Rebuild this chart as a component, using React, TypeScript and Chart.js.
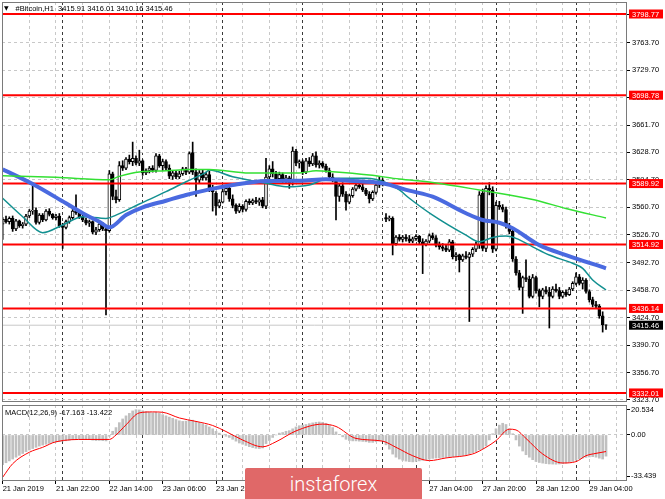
import React, { useEffect, useRef } from "react";
import { Chart, registerables } from "chart.js";

Chart.register(...registerables);

const FONT = "'Liberation Sans', Arial, sans-serif";

// ---- Candles (H1, bar index 0 = 21 Jan 06:00) ----
const opens = [
  3540,3546,3543,3547,3534,3544,3538,3540,3550,3556,
  3557,3542,3551,3545,3556,3552,3548,3550,3538,3536,
  3543,3548,3556,3554,3549,3545,3541,3543,3530,3533,
  3540,3534,3532,3602,3574,3570,3612,3609,3620,3617,
  3621,3615,3618,3603,3606,3609,3606,3624,3612,3617,
  3609,3599,3603,3598,3602,3608,3604,3628,3604,3594,
  3603,3597,3601,3583,3578,3562,3567,3580,3584,3571,
  3563,3556,3562,3558,3568,3566,3569,3567,3570,3562,
  3598,3608,3602,3596,3601,3593,3597,3592,3630,3615,
  3617,3604,3618,3614,3624,3613,3615,3611,3606,3598,
  3594,3574,3587,3577,3567,3575,3583,3588,3586,3582,
  3577,3571,3579,3588,3594,3548,3546,3547,3516,3524,
  3521,3524,3522,3519,3522,3525,3518,3515,3519,3526,
  3523,3514,3512,3510,3508,3518,3500,3502,3496,3501,
  3499,3503,3509,3514,3578,3510,3584,3582,3509,3563,
  3561,3558,3538,3531,3497,3480,3462,3474,3472,3451,
  3474,3458,3451,3459,3456,3451,3460,3458,3451,3456,
  3453,3460,3467,3475,3467,3471,3457,3447,3441,3439,
  3427,3415.91
];
const highs = [
  3548,3550,3549,3550,3546,3545,3542,3552,3558,3588,
  3560,3553,3553,3558,3559,3553,3552,3553,3541,3545,
  3550,3558,3576,3557,3552,3547,3545,3544,3536,3542,
  3542,3538,3606,3604,3582,3617,3618,3622,3625,3641,
  3624,3631,3619,3608,3611,3612,3627,3626,3620,3619,
  3613,3606,3606,3605,3610,3610,3629,3641,3608,3606,
  3607,3604,3605,3588,3580,3570,3583,3587,3586,3576,
  3565,3565,3564,3570,3571,3571,3573,3572,3573,3621,
  3612,3617,3605,3604,3603,3600,3599,3635,3632,3619,
  3619,3621,3622,3627,3629,3618,3617,3614,3609,3602,
  3596,3590,3591,3580,3577,3585,3590,3592,3589,3584,
  3580,3581,3590,3598,3596,3553,3550,3549,3526,3527,
  3526,3527,3526,3524,3527,3526,3522,3521,3528,3529,
  3526,3518,3516,3514,3521,3520,3505,3503,3503,3506,
  3505,3511,3518,3580,3583,3587,3591,3586,3567,3568,
  3564,3561,3541,3533,3500,3483,3476,3496,3476,3478,
  3476,3460,3461,3463,3462,3463,3466,3462,3458,3459,
  3462,3469,3480,3478,3474,3473,3459,3450,3445,3441,
  3432,3416.01
];
const lows = [
  3521,3541,3540,3531,3532,3536,3535,3538,3548,3552,
  3540,3540,3543,3544,3550,3546,3545,3536,3510,3534,
  3541,3546,3552,3547,3543,3539,3537,3528,3527,3531,
  3532,3428,3530,3570,3566,3568,3606,3607,3614,3612,
  3613,3612,3600,3601,3603,3604,3604,3610,3606,3607,
  3596,3595,3596,3596,3600,3601,3602,3601,3574,3590,
  3594,3594,3580,3556,3551,3560,3566,3576,3568,3560,
  3553,3554,3555,3556,3564,3564,3565,3563,3560,3559,
  3594,3598,3593,3594,3590,3591,3584,3588,3612,3609,
  3601,3602,3611,3612,3610,3609,3609,3604,3596,3592,
  3545,3568,3574,3557,3565,3573,3581,3584,3580,3575,
  3566,3569,3577,3585,3587,3543,3544,3502,3514,3519,
  3518,3519,3517,3517,3520,3516,3479,3513,3517,3521,
  3512,3509,3507,3506,3506,3497,3495,3481,3494,3497,
  3420,3500,3506,3510,3507,3506,3576,3505,3507,3558,
  3555,3535,3528,3494,3477,3459,3430,3469,3449,3449,
  3455,3438,3448,3454,3412,3449,3456,3448,3449,3451,
  3452,3458,3465,3465,3460,3455,3444,3438,3436,3424,
  3407,3410.16
];
const closes = [
  3546,3543,3547,3534,3544,3538,3540,3550,3556,3557,
  3542,3551,3545,3556,3552,3548,3550,3538,3536,3543,
  3548,3556,3554,3549,3545,3541,3543,3530,3533,3540,
  3534,3532,3602,3574,3570,3612,3609,3620,3617,3621,
  3615,3618,3603,3606,3609,3606,3624,3612,3617,3609,
  3599,3603,3598,3602,3608,3604,3627,3604,3594,3603,
  3597,3601,3583,3580,3562,3567,3580,3584,3571,3563,
  3556,3562,3558,3568,3566,3569,3567,3570,3562,3598,
  3608,3602,3596,3601,3593,3597,3590,3630,3615,3617,
  3604,3618,3614,3624,3613,3615,3611,3606,3598,3594,
  3574,3587,3577,3567,3575,3583,3588,3586,3582,3577,
  3571,3579,3588,3594,3590,3546,3547,3516,3524,3521,
  3524,3522,3519,3522,3525,3518,3515,3519,3526,3523,
  3514,3512,3510,3508,3518,3500,3502,3496,3501,3499,
  3503,3509,3515,3576,3510,3584,3582,3509,3563,3561,
  3558,3538,3531,3497,3480,3462,3474,3472,3451,3474,
  3458,3451,3459,3456,3451,3460,3458,3451,3456,3453,
  3460,3467,3475,3467,3471,3457,3447,3441,3439,3427,
  3416,3415.46
];

// ---- Moving averages (read at bar indices) ----
const greenBars = [0,16,32,35,41,49,56,62,74,89,94,99,110,119,129,143,159,169,181];
const greenVals = [3599.5,3597.6,3594.5,3598.8,3604.3,3605.7,3607.3,3607.3,3603,3603,3605.6,3604.5,3600.5,3595.5,3591.2,3582,3570.3,3559.2,3547.5];
const blueBars = [0,9,19,25,29,32,37,42,49,55,62,69,79,89,97,104,114,122,129,139,144,149,153,161,169,181];
const blueVals = [3607.5,3589.4,3565.6,3551.2,3543,3536,3551.2,3560.7,3568.8,3575.8,3582.8,3588.2,3593.1,3593.5,3595.2,3593.5,3590.3,3581.2,3573.7,3553.3,3545,3541.7,3534.8,3514.1,3501.9,3485.5];
const tealBars = [0,6,12,18,24,31,34,41,49,55,61,62,69,79,85,92,96,101,109,115,119,122,129,139,143,147,151,154,159,164,171,174,177,181];
const tealVals = [3571.8,3549.1,3529.4,3538.9,3549.1,3547,3551,3564.7,3579.9,3592.2,3603.8,3606.6,3598.4,3590.3,3586,3588.2,3594.3,3596.4,3596.4,3591,3582,3571.8,3551,3526.4,3518.2,3523.6,3525.3,3522.4,3512,3501.9,3491.7,3485.5,3471.1,3458.8];

// ---- Levels ----
const levels = [3798.77, 3698.78, 3589.92, 3514.92, 3436.14, 3332.01];
const lastPrice = 3415.46;
const priceTicks = [3797.7,3763.7,3729.7,3695.7,3661.7,3628.7,3594.7,3560.7,3526.7,3492.7,3458.7,3424.7,3390.7,3356.7,3323.7];

// ---- MACD ----
const macdHist = [
  -24,-22.5,-21,-19.5,-18,-16.5,-15,-13.5,-12.2,-11,
  -10,-9,-8.2,-7.5,-6.8,-6.2,-5.7,-5.2,-5,-4.7,
  -4.3,-3.8,-3.5,-3.4,-3.5,-3.7,-3.8,-4.2,-4.5,-4.4,
  -4.6,-4.8,-1,3,6,10,13,15.5,17.5,19.5,
  20.5,20.3,19.6,19,18.5,18,18.3,17.5,16.5,15.5,
  14.5,13.5,12.5,11.5,11,11.2,11.8,12,11,10,
  9,8,6.5,5,3,1.5,0,-1,-2,-3.5,
  -5,-6.5,-7.5,-8.5,-9.5,-10.2,-10.8,-11,-10.5,-7,
  -4.5,-2,0,1.5,2,3,3.5,5,6.5,7.5,
  8,8.5,9.2,9.8,10.3,10.5,10.3,9.5,8,6,
  2.5,0.5,-1.5,-3.5,-4.5,-4.8,-4.8,-5,-5.2,-5.5,
  -6,-6,-5.5,-4.8,-4.5,-8,-11.5,-15.5,-18,-19.5,
  -20.5,-21.2,-21.6,-21.8,-21.5,-21,-20.5,-20,-19.5,-19,
  -18.7,-18.5,-18.2,-18,-17.5,-17.5,-17.3,-17,-16.5,-16,
  -15.5,-14.5,-13.5,-12,-11,-9,-4,1,5,8,
  9.5,8.5,5,1,-4,-9,-13,-16,-18,-20,
  -21.5,-22.3,-22.8,-23.2,-23.5,-23.6,-23.7,-23.5,-23.2,-22.8,
  -22.2,-21.5,-20.5,-19.5,-18.7,-18.2,-17.8,-17.6,-18,-18.8,
  -19.5,-17.163
];
const sigBars = [0,3,8,12,16,25,32,34,37,41,45,48,53,58,63,67,72,78,82,88,96,100,106,114,118,123,128,133,141,145,148,152,154,157,162,168,172,175,178,181];
const sigVals = [-34.3,-23.3,-14,-10,-5.5,-3.6,-3.6,0,8.2,17.9,18.7,18.4,13.8,11,7.7,2.8,-4.1,-9.6,-5.5,3.3,8.8,6.9,-2.8,-5,-10,-16.8,-20.8,-18.6,-15.4,-10,-4.6,4.7,4.1,-2.8,-15.4,-22.7,-21.6,-16.8,-14.9,-13.422];
const macdTicks = [20.534, 0, -33.439];
const macdTickLabels = ["20.534", "0.00", "-33.439"];

// ---- Time axis ----
const gridBars = [0,8,16,24,32,40,48,56,64,72,80,88,96,104,112,120,128,136,144,152,160,168,176,184];
const dayBars = [18,42,66,90,114,124,148,172];
const labelBars = [0,16,32,48,64,80,96,112,128,144,160,176];
const labelTexts = ["21 Jan 2019","21 Jan 22:00","22 Jan 14:00","23 Jan 06:00","23 Jan 22:00","24 Jan 14:00","25 Jan 06:00","25 Jan 22:00","27 Jan 04:00","27 Jan 20:00","28 Jan 12:00","29 Jan 04:00"];

const X_MIN = -0.2;
const X_MAX = 187.3;
const PRICE_MIN = 3320.87;
const PRICE_MAX = 3813.55;
const MACD_MIN = -37.3;
const MACD_MAX = 24.3;

const allGrid = Array.from(new Set([...gridBars, ...dayBars])).sort((a, b) => a - b);

function xScale(showLabels: boolean, height: number): any {
  return {
    type: "linear",
    min: X_MIN,
    max: X_MAX,
    offset: false,
    afterBuildTicks: (s: any) => { s.ticks = allGrid.map((v) => ({ value: v })); },
    afterFit: (s: any) => { s.height = height; s.paddingLeft = 0; s.paddingRight = 0; },
    grid: {
      offset: false,
      lineWidth: 1,
      color: (c: any) => (dayBars.includes(c.tick?.value) ? "#3a3a3a" : "#c8c8c8"),
      drawTicks: showLabels,
      tickLength: 3,
      tickColor: (c: any) => (labelBars.includes(c.tick?.value) ? "#000" : "rgba(0,0,0,0)"),
      tickBorderDash: [],
    },
    border: { display: false, dash: [3, 3] },
    ticks: {
      display: showLabels,
      autoSkip: false,
      maxRotation: 0,
      minRotation: 0,
      align: "start",
      padding: 0,
      color: "#000",
      font: { family: FONT, size: 7.5 },
      callback: (v: any) => {
        const k = labelBars.indexOf(Number(v));
        return k >= 0 ? labelTexts[k] : "";
      },
    },
  };
}

const framePlugin = {
  id: "frame",
  afterDraw(chart: any) {
    const { ctx, chartArea: a } = chart;
    ctx.save();
    ctx.strokeStyle = "#7a7a7a";
    ctx.lineWidth = 1;
    ctx.strokeRect(a.left + 0.5, a.top + 0.5, a.right - a.left - 1, a.bottom - a.top - 1);
    ctx.restore();
  },
};

const levelLabelPlugin = {
  id: "levelLabels",
  afterDraw(chart: any) {
    const { ctx, chartArea: a } = chart;
    const y = chart.scales.y;
    ctx.save();
    ctx.font = `7.5px ${FONT}`;
    ctx.textBaseline = "middle";
    ctx.textAlign = "left";
    const box = (v: number, fill: string) => {
      const py = y.getPixelForValue(v);
      ctx.fillStyle = fill;
      ctx.fillRect(a.right + 2, py - 4.5, 34, 9);
      ctx.fillStyle = "#fff";
      ctx.fillText(v.toFixed(2), a.right + 5, py + 0.5);
    };
    levels.forEach((v) => box(v, "#ff0000"));
    box(lastPrice, "#000000");
    // header
    ctx.fillStyle = "#000";
    ctx.font = `6px 'DejaVu Sans', ${FONT}`;
    ctx.fillText("\u25BC", 4, 8.5);
    ctx.font = `7.5px ${FONT}`;
    ctx.fillText(
      `#Bitcoin,H1  ${opens[opens.length - 1].toFixed(2)} ${highs[highs.length - 1].toFixed(2)} ${lows[lows.length - 1].toFixed(2)} ${closes[closes.length - 1].toFixed(2)}`,
      15.5, 8.5
    );
    ctx.restore();
  },
};

const macdLabelPlugin = {
  id: "macdLabel",
  afterDraw(chart: any) {
    const { ctx } = chart;
    ctx.save();
    ctx.font = `7.5px ${FONT}`;
    ctx.textBaseline = "middle";
    ctx.textAlign = "left";
    ctx.fillStyle = "#000";
    ctx.fillText(`MACD(12,26,9) ${macdHist[macdHist.length - 1].toFixed(3)} ${sigVals[sigVals.length - 1].toFixed(3)}`, 5, 9.5);
    ctx.restore();
  },
};

export default function App() {
  const mainRef = useRef<HTMLCanvasElement>(null);
  const macdRef = useRef<HTMLCanvasElement>(null);

  useEffect(() => {
    document.body.style.margin = "0";
    Chart.defaults.font.family = FONT;
    Chart.defaults.font.size = 7.5;
    Chart.defaults.color = "#000";

    const idx = closes.map((_, i) => i);
    const wickData = idx.map((i) => ({ x: i, y: [lows[i], highs[i]] }));
    const bodyData = idx.map((i) => ({ x: i, y: [Math.min(opens[i], closes[i]), Math.max(opens[i], closes[i])] }));
    const bodyFill = idx.map((i) => (closes[i] >= opens[i] ? "#ffffff" : "#000000"));
    const pts = (bars: number[], vals: number[]) => bars.map((b, k) => ({ x: b, y: vals[k] }));
    const hLine = (v: number) => [{ x: X_MIN, y: v }, { x: X_MAX, y: v }];

    const main = new Chart(mainRef.current as HTMLCanvasElement, {
      type: "bar",
      data: {
        datasets: [
          { type: "line", data: pts(greenBars, greenVals), borderColor: "#33e033", borderWidth: 1.5, pointRadius: 0, cubicInterpolationMode: "monotone", order: 0 } as any,
          { type: "line", data: pts(blueBars, blueVals), borderColor: "#4a6ae0", borderWidth: 4, pointRadius: 0, cubicInterpolationMode: "monotone", order: 1 } as any,
          { type: "line", data: pts(tealBars, tealVals), borderColor: "#129090", borderWidth: 1.5, pointRadius: 0, cubicInterpolationMode: "monotone", order: 2 } as any,
          ...levels.map((v) => ({ type: "line", data: hLine(v), borderColor: "#ff0000", borderWidth: 2, pointRadius: 0, order: 3 } as any)),
          { type: "line", data: hLine(lastPrice), borderColor: "#c8c8c8", borderWidth: 1, pointRadius: 0, order: 6 } as any,
          { type: "bar", data: bodyData, backgroundColor: bodyFill, borderColor: "#000", borderWidth: 1, borderSkipped: false, barThickness: 3, grouped: false, order: 4 } as any,
          { type: "bar", data: wickData, backgroundColor: "#000", borderWidth: 0, barThickness: 1, grouped: false, order: 5 } as any,
        ],
      },
      options: {
        animation: false,
        responsive: false,
        events: [],
        layout: { padding: { left: 2, top: 2, right: 0, bottom: 2 } },
        plugins: { legend: { display: false }, tooltip: { enabled: false } },
        scales: {
          x: xScale(false, 0),
          y: {
            type: "linear",
            position: "right",
            min: PRICE_MIN,
            max: PRICE_MAX,
            beginAtZero: false,
            afterBuildTicks: (s: any) => { s.ticks = priceTicks.map((v) => ({ value: v })); },
            afterFit: (s: any) => { s.width = 38; s.paddingTop = 0; s.paddingBottom = 0; },
            grid: { color: "#c8c8c8", lineWidth: 1, tickLength: 3, tickColor: "#000", tickBorderDash: [] },
            border: { display: false, dash: [3, 3] },
            ticks: { padding: 2, color: "#000", font: { family: FONT, size: 7.5 }, callback: (v: any) => Number(v).toFixed(2) },
          } as any,
        },
      } as any,
      plugins: [framePlugin, levelLabelPlugin],
    });

    const macd = new Chart(macdRef.current as HTMLCanvasElement, {
      type: "bar",
      data: {
        datasets: [
          { type: "line", data: pts(sigBars, sigVals), borderColor: "#ff0000", borderWidth: 1, pointRadius: 0, cubicInterpolationMode: "monotone", order: 0 } as any,
          { type: "bar", data: macdHist.map((v, i) => ({ x: i, y: v })), backgroundColor: "#c0c0c0", borderWidth: 0, barThickness: 2, grouped: false, order: 1 } as any,
        ],
      },
      options: {
        animation: false,
        responsive: false,
        events: [],
        layout: { padding: { left: 2, top: 2, right: 0, bottom: 0 } },
        plugins: { legend: { display: false }, tooltip: { enabled: false } },
        scales: {
          x: xScale(true, 18),
          y: {
            type: "linear",
            position: "right",
            min: MACD_MIN,
            max: MACD_MAX,
            beginAtZero: false,
            afterBuildTicks: (s: any) => { s.ticks = macdTicks.map((v) => ({ value: v })); },
            afterFit: (s: any) => { s.width = 38; s.paddingTop = 0; s.paddingBottom = 0; },
            grid: { color: (c: any) => (c.tick?.value === 0 ? "#c8c8c8" : "rgba(0,0,0,0)"), lineWidth: 1, tickLength: 3, tickColor: "#000", tickBorderDash: [] },
            border: { display: false, dash: [3, 3] },
            ticks: {
              padding: 1,
              color: "#000",
              font: { family: FONT, size: 7.5 },
              callback: (v: any) => {
                const k = macdTicks.indexOf(Number(v));
                return k >= 0 ? macdTickLabels[k] : "";
              },
            },
          } as any,
        },
      } as any,
      plugins: [framePlugin, macdLabelPlugin],
    });

    return () => {
      main.destroy();
      macd.destroy();
    };
  }, []);

  return (
    <div style={{ position: "absolute", left: 0, top: 0, width: 665, height: 499, background: "#fff", overflow: "hidden" }}>
      <canvas ref={mainRef} width={665} height={404} style={{ position: "absolute", left: 0, top: 0, width: 665, height: 404 }} />
      <canvas ref={macdRef} width={665} height={96} style={{ position: "absolute", left: 0, top: 403, width: 665, height: 96 }} />
      <div
        style={{
          position: "absolute",
          left: 245,
          top: 468,
          width: 177,
          height: 31,
          background: "#e06868",
          color: "#fff",
          fontFamily: "Roboto, 'Noto Sans', sans-serif",
          fontWeight: 300,
          fontSize: 20,
          display: "flex",
          alignItems: "center",
          justifyContent: "center",
          borderRadius: "2px 2px 0 0",
        }}
      >
        instaforex
      </div>
    </div>
  );
}
